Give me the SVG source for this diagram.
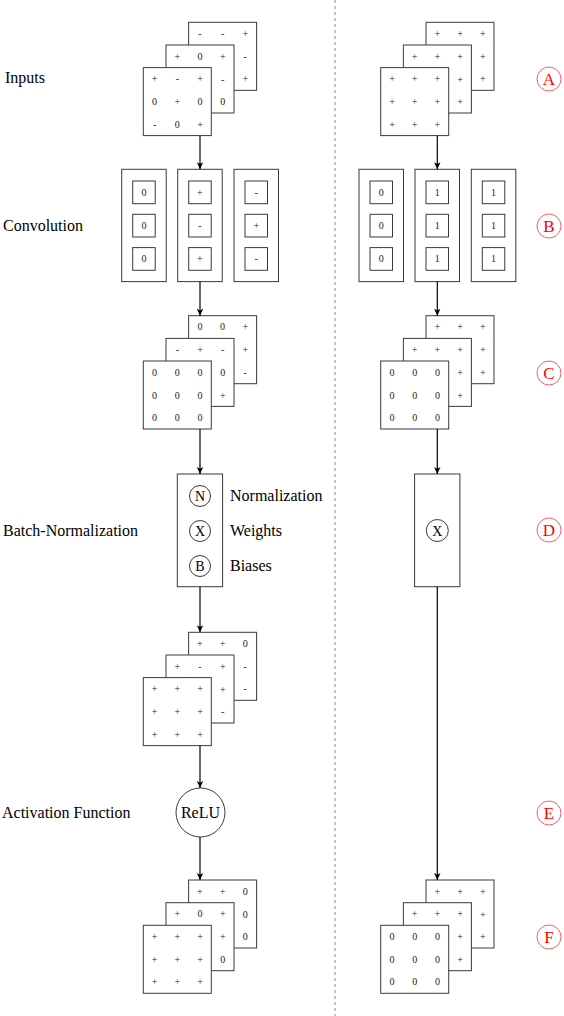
<svg xmlns="http://www.w3.org/2000/svg" width="564" height="1016" viewBox="0 0 564 1016">
<defs>
<style>
.sq{fill:#fff;stroke:#3a3a3a;stroke-width:1}
.bx{fill:#fff;stroke:#3a3a3a;stroke-width:1}
.c{font-family:"Liberation Serif",serif;font-size:10px;text-anchor:middle;fill:#222}
.lbl{font-family:"Liberation Serif",serif;font-size:16px;fill:#000}
.op{font-family:"Liberation Serif",serif;font-size:14px;text-anchor:middle;fill:#000}
.circ{fill:#fff;stroke:#3a3a3a;stroke-width:1}
.tag{fill:none;stroke:#f33;stroke-width:0.8}
.tagt{font-family:"Liberation Serif",serif;font-size:17px;text-anchor:middle;fill:#f00}
.con{stroke:#000;stroke-width:1.2;fill:none;marker-end:url(#ah)}
</style>
<marker id="ah" markerWidth="8" markerHeight="8" refX="7" refY="4" orient="auto" markerUnits="userSpaceOnUse">
<path d="M0,0.8 L7,4 L0,7.2 L1.8,4 z" fill="#000"/>
</marker>
</defs>
<rect width="564" height="1016" fill="#fff"/>
<line x1="335" y1="0" x2="335" y2="1016" stroke="#888" stroke-width="1" stroke-dasharray="3 3"/>

<!-- row labels -->
<g id="labels">
<text class="lbl" x="5" y="83">Inputs</text>
<text class="lbl" x="3" y="231">Convolution</text>
<text class="lbl" x="3" y="536">Batch-Normalization</text>
<text class="lbl" x="2" y="818">Activation Function</text>
</g>

<!-- Left A: inputs -->
<g id="inputs-left" transform="translate(143.3,22.3)">
<g transform="translate(45.3,0)"><rect class="sq" width="68" height="68"/>
<text class="c" x="11.3" y="14.8">-</text><text class="c" x="34" y="14.8">-</text><text class="c" x="56.7" y="14.8">+</text>
<text class="c" x="56.7" y="37.5">-</text><text class="c" x="56.7" y="60.2">+</text></g>
<g transform="translate(22.7,22.7)"><rect class="sq" width="68" height="68"/>
<text class="c" x="11.3" y="14.8">+</text><text class="c" x="34" y="14.8">0</text><text class="c" x="56.7" y="14.8">+</text>
<text class="c" x="56.7" y="37.5">-</text><text class="c" x="56.7" y="60.2">0</text></g>
<g transform="translate(0,45.3)"><rect class="sq" width="68" height="68"/>
<text class="c" x="11.3" y="14.8">+</text><text class="c" x="34" y="14.8">-</text><text class="c" x="56.7" y="14.8">+</text>
<text class="c" x="11.3" y="37.5">0</text><text class="c" x="34" y="37.5">+</text><text class="c" x="56.7" y="37.5">0</text>
<text class="c" x="11.3" y="60.2">-</text><text class="c" x="34" y="60.2">0</text><text class="c" x="56.7" y="60.2">+</text></g>
</g>

<!-- Right A -->
<g id="inputs-right" transform="translate(380.7,22.3)">
<g transform="translate(45.3,0)"><rect class="sq" width="68" height="68"/>
<text class="c" x="11.3" y="14.8">+</text><text class="c" x="34" y="14.8">+</text><text class="c" x="56.7" y="14.8">+</text>
<text class="c" x="56.7" y="37.5">+</text><text class="c" x="56.7" y="60.2">+</text></g>
<g transform="translate(22.7,22.7)"><rect class="sq" width="68" height="68"/>
<text class="c" x="11.3" y="14.8">+</text><text class="c" x="34" y="14.8">+</text><text class="c" x="56.7" y="14.8">+</text>
<text class="c" x="56.7" y="37.5">+</text><text class="c" x="56.7" y="60.2">+</text></g>
<g transform="translate(0,45.3)"><rect class="sq" width="68" height="68"/>
<text class="c" x="11.3" y="14.8">+</text><text class="c" x="34" y="14.8">+</text><text class="c" x="56.7" y="14.8">+</text>
<text class="c" x="11.3" y="37.5">+</text><text class="c" x="34" y="37.5">+</text><text class="c" x="56.7" y="37.5">+</text>
<text class="c" x="11.3" y="60.2">+</text><text class="c" x="34" y="60.2">+</text><text class="c" x="56.7" y="60.2">+</text></g>
</g>

<!-- Left B: convolution -->
<g id="conv-left" transform="translate(121.7,169.3)">
<g><rect class="bx" width="44.5" height="112.3"/>
<rect class="sq" x="11" y="11.7" width="22.5" height="22.7"/><rect class="sq" x="11" y="45" width="22.5" height="22.7"/><rect class="sq" x="11" y="78.3" width="22.5" height="22.7"/>
<text class="c" x="22.25" y="26.5">0</text><text class="c" x="22.25" y="59.9">0</text><text class="c" x="22.25" y="93.2">0</text></g>
<g transform="translate(56,0)"><rect class="bx" width="44.5" height="112.3"/>
<rect class="sq" x="11" y="11.7" width="22.5" height="22.7"/><rect class="sq" x="11" y="45" width="22.5" height="22.7"/><rect class="sq" x="11" y="78.3" width="22.5" height="22.7"/>
<text class="c" x="22.25" y="26.5">+</text><text class="c" x="22.25" y="59.9">-</text><text class="c" x="22.25" y="93.2">+</text></g>
<g transform="translate(112.3,0)"><rect class="bx" width="44.5" height="112.3"/>
<rect class="sq" x="11" y="11.7" width="22.5" height="22.7"/><rect class="sq" x="11" y="45" width="22.5" height="22.7"/><rect class="sq" x="11" y="78.3" width="22.5" height="22.7"/>
<text class="c" x="22.25" y="26.5">-</text><text class="c" x="22.25" y="59.9">+</text><text class="c" x="22.25" y="93.2">-</text></g>
</g>

<!-- Right B -->
<g id="conv-right" transform="translate(359,169.3)">
<g><rect class="bx" width="44.5" height="112.3"/>
<rect class="sq" x="11" y="11.7" width="22.5" height="22.7"/><rect class="sq" x="11" y="45" width="22.5" height="22.7"/><rect class="sq" x="11" y="78.3" width="22.5" height="22.7"/>
<text class="c" x="22.25" y="26.5">0</text><text class="c" x="22.25" y="59.9">0</text><text class="c" x="22.25" y="93.2">0</text></g>
<g transform="translate(56,0)"><rect class="bx" width="44.5" height="112.3"/>
<rect class="sq" x="11" y="11.7" width="22.5" height="22.7"/><rect class="sq" x="11" y="45" width="22.5" height="22.7"/><rect class="sq" x="11" y="78.3" width="22.5" height="22.7"/>
<text class="c" x="22.25" y="26.5">1</text><text class="c" x="22.25" y="59.9">1</text><text class="c" x="22.25" y="93.2">1</text></g>
<g transform="translate(112.3,0)"><rect class="bx" width="44.5" height="112.3"/>
<rect class="sq" x="11" y="11.7" width="22.5" height="22.7"/><rect class="sq" x="11" y="45" width="22.5" height="22.7"/><rect class="sq" x="11" y="78.3" width="22.5" height="22.7"/>
<text class="c" x="22.25" y="26.5">1</text><text class="c" x="22.25" y="59.9">1</text><text class="c" x="22.25" y="93.2">1</text></g>
</g>

<!-- Left C -->
<g id="convout-left" transform="translate(143.3,315.7)">
<g transform="translate(45.3,0)"><rect class="sq" width="68" height="68"/>
<text class="c" x="11.3" y="14.8">0</text><text class="c" x="34" y="14.8">0</text><text class="c" x="56.7" y="14.8">+</text>
<text class="c" x="56.7" y="37.5">+</text><text class="c" x="56.7" y="60.2">-</text></g>
<g transform="translate(22.7,22.7)"><rect class="sq" width="68" height="68"/>
<text class="c" x="11.3" y="14.8">-</text><text class="c" x="34" y="14.8">+</text><text class="c" x="56.7" y="14.8">-</text>
<text class="c" x="56.7" y="37.5">0</text><text class="c" x="56.7" y="60.2">+</text></g>
<g transform="translate(0,45.3)"><rect class="sq" width="68" height="68"/>
<text class="c" x="11.3" y="14.8">0</text><text class="c" x="34" y="14.8">0</text><text class="c" x="56.7" y="14.8">0</text>
<text class="c" x="11.3" y="37.5">0</text><text class="c" x="34" y="37.5">0</text><text class="c" x="56.7" y="37.5">0</text>
<text class="c" x="11.3" y="60.2">0</text><text class="c" x="34" y="60.2">0</text><text class="c" x="56.7" y="60.2">0</text></g>
</g>

<!-- Right C -->
<g id="convout-right" transform="translate(380.7,315.7)">
<g transform="translate(45.3,0)"><rect class="sq" width="68" height="68"/>
<text class="c" x="11.3" y="14.8">+</text><text class="c" x="34" y="14.8">+</text><text class="c" x="56.7" y="14.8">+</text>
<text class="c" x="56.7" y="37.5">+</text><text class="c" x="56.7" y="60.2">+</text></g>
<g transform="translate(22.7,22.7)"><rect class="sq" width="68" height="68"/>
<text class="c" x="11.3" y="14.8">+</text><text class="c" x="34" y="14.8">+</text><text class="c" x="56.7" y="14.8">+</text>
<text class="c" x="56.7" y="37.5">+</text><text class="c" x="56.7" y="60.2">+</text></g>
<g transform="translate(0,45.3)"><rect class="sq" width="68" height="68"/>
<text class="c" x="11.3" y="14.8">0</text><text class="c" x="34" y="14.8">0</text><text class="c" x="56.7" y="14.8">0</text>
<text class="c" x="11.3" y="37.5">0</text><text class="c" x="34" y="37.5">0</text><text class="c" x="56.7" y="37.5">0</text>
<text class="c" x="11.3" y="60.2">0</text><text class="c" x="34" y="60.2">0</text><text class="c" x="56.7" y="60.2">0</text></g>
</g>

<!-- Left D: batch norm -->
<g id="bn-left">
<rect class="bx" x="177.3" y="474" width="45.3" height="112.7"/>
<circle class="circ" cx="200" cy="496" r="10.5"/><text class="op" x="200" y="501">N</text>
<circle class="circ" cx="200" cy="531" r="10.5"/><text class="op" x="200" y="536">X</text>
<circle class="circ" cx="200" cy="566" r="10.5"/><text class="op" x="200" y="571">B</text>
<text class="lbl" x="230" y="501">Normalization</text>
<text class="lbl" x="230" y="536">Weights</text>
<text class="lbl" x="230" y="571">Biases</text>
</g>

<!-- Right D -->
<g id="bn-right">
<rect class="bx" x="414.6" y="474" width="45.3" height="112.7"/>
<circle class="circ" cx="437.3" cy="530.5" r="11"/><text class="op" x="437.3" y="535.5">X</text>
</g>

<!-- Left D output -->
<g id="bnout-left" transform="translate(143.3,632.3)">
<g transform="translate(45.3,0)"><rect class="sq" width="68" height="68"/>
<text class="c" x="11.3" y="14.8">+</text><text class="c" x="34" y="14.8">+</text><text class="c" x="56.7" y="14.8">0</text>
<text class="c" x="56.7" y="37.5">-</text><text class="c" x="56.7" y="60.2">-</text></g>
<g transform="translate(22.7,22.7)"><rect class="sq" width="68" height="68"/>
<text class="c" x="11.3" y="14.8">+</text><text class="c" x="34" y="14.8">-</text><text class="c" x="56.7" y="14.8">+</text>
<text class="c" x="56.7" y="37.5">+</text><text class="c" x="56.7" y="60.2">-</text></g>
<g transform="translate(0,45.3)"><rect class="sq" width="68" height="68"/>
<text class="c" x="11.3" y="14.8">+</text><text class="c" x="34" y="14.8">+</text><text class="c" x="56.7" y="14.8">+</text>
<text class="c" x="11.3" y="37.5">+</text><text class="c" x="34" y="37.5">+</text><text class="c" x="56.7" y="37.5">+</text>
<text class="c" x="11.3" y="60.2">+</text><text class="c" x="34" y="60.2">+</text><text class="c" x="56.7" y="60.2">+</text></g>
</g>

<!-- ReLU -->
<g id="relu">
<circle class="circ" cx="200.5" cy="812.5" r="24.5"/>
<text class="lbl" x="200.5" y="818" text-anchor="middle">ReLU</text>
</g>

<!-- Left F -->
<g id="out-left" transform="translate(143.3,880)">
<g transform="translate(45.3,0)"><rect class="sq" width="68" height="68"/>
<text class="c" x="11.3" y="14.8">+</text><text class="c" x="34" y="14.8">+</text><text class="c" x="56.7" y="14.8">0</text>
<text class="c" x="56.7" y="37.5">0</text><text class="c" x="56.7" y="60.2">0</text></g>
<g transform="translate(22.7,22.7)"><rect class="sq" width="68" height="68"/>
<text class="c" x="11.3" y="14.8">+</text><text class="c" x="34" y="14.8">0</text><text class="c" x="56.7" y="14.8">+</text>
<text class="c" x="56.7" y="37.5">+</text><text class="c" x="56.7" y="60.2">0</text></g>
<g transform="translate(0,45.3)"><rect class="sq" width="68" height="68"/>
<text class="c" x="11.3" y="14.8">+</text><text class="c" x="34" y="14.8">+</text><text class="c" x="56.7" y="14.8">+</text>
<text class="c" x="11.3" y="37.5">+</text><text class="c" x="34" y="37.5">+</text><text class="c" x="56.7" y="37.5">+</text>
<text class="c" x="11.3" y="60.2">+</text><text class="c" x="34" y="60.2">+</text><text class="c" x="56.7" y="60.2">+</text></g>
</g>

<!-- Right F -->
<g id="out-right" transform="translate(380.7,880)">
<g transform="translate(45.3,0)"><rect class="sq" width="68" height="68"/>
<text class="c" x="11.3" y="14.8">+</text><text class="c" x="34" y="14.8">+</text><text class="c" x="56.7" y="14.8">+</text>
<text class="c" x="56.7" y="37.5">+</text><text class="c" x="56.7" y="60.2">+</text></g>
<g transform="translate(22.7,22.7)"><rect class="sq" width="68" height="68"/>
<text class="c" x="11.3" y="14.8">+</text><text class="c" x="34" y="14.8">+</text><text class="c" x="56.7" y="14.8">+</text>
<text class="c" x="56.7" y="37.5">+</text><text class="c" x="56.7" y="60.2">+</text></g>
<g transform="translate(0,45.3)"><rect class="sq" width="68" height="68"/>
<text class="c" x="11.3" y="14.8">0</text><text class="c" x="34" y="14.8">0</text><text class="c" x="56.7" y="14.8">0</text>
<text class="c" x="11.3" y="37.5">0</text><text class="c" x="34" y="37.5">0</text><text class="c" x="56.7" y="37.5">0</text>
<text class="c" x="11.3" y="60.2">0</text><text class="c" x="34" y="60.2">0</text><text class="c" x="56.7" y="60.2">0</text></g>
</g>

<!-- Tags -->
<g id="tags">
<g id="tag-A"><circle class="tag" cx="549" cy="79" r="12"/><text class="tagt" x="549" y="85">A</text></g>
<g id="tag-B"><circle class="tag" cx="549" cy="226" r="12"/><text class="tagt" x="549" y="232">B</text></g>
<g id="tag-C"><circle class="tag" cx="549" cy="373" r="12"/><text class="tagt" x="549" y="379">C</text></g>
<g id="tag-D"><circle class="tag" cx="549" cy="530" r="12"/><text class="tagt" x="549" y="536">D</text></g>
<g id="tag-E"><circle class="tag" cx="549" cy="813" r="12"/><text class="tagt" x="549" y="819">E</text></g>
<g id="tag-F"><circle class="tag" cx="549" cy="937" r="12"/><text class="tagt" x="549" y="943">F</text></g>
</g>

<!-- Connectors -->
<g id="connectors">
<line class="con" x1="200" y1="135.6" x2="200" y2="169.3"/>
<line class="con" x1="200" y1="281.6" x2="200" y2="315.7"/>
<line class="con" x1="200" y1="429" x2="200" y2="474"/>
<line class="con" x1="200" y1="586.7" x2="200" y2="632.3"/>
<line class="con" x1="200" y1="745.6" x2="200" y2="788"/>
<line class="con" x1="200" y1="837" x2="200" y2="880"/>
<line class="con" x1="437.3" y1="135.6" x2="437.3" y2="169.3"/>
<line class="con" x1="437.3" y1="281.6" x2="437.3" y2="315.7"/>
<line class="con" x1="437.3" y1="429" x2="437.3" y2="474"/>
<line class="con" x1="437.3" y1="586.7" x2="437.3" y2="880"/>
</g>
</svg>
